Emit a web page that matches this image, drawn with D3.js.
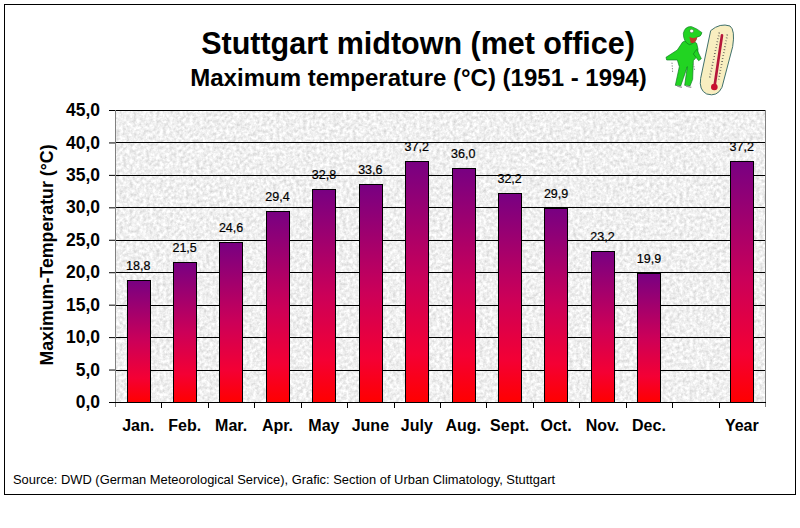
<!DOCTYPE html>
<html>
<head>
<meta charset="utf-8">
<script src="https://cdn.jsdelivr.net/npm/d3@7"></script>
<style>
  html, body { margin: 0; padding: 0; background: #fff; }
  svg { display: block; }
  text { font-family: "Liberation Sans", Arial, sans-serif; fill: #000; }
</style>
</head>
<body>
<div id="chart"></div>
<script>
// ── Data ─────────────────────────────────────────────
const categories = ['Jan.', 'Feb.', 'Mar.', 'Apr.', 'May', 'June', 'July', 'Aug.', 'Sept.', 'Oct.', 'Nov.', 'Dec.', '', 'Year'];
const values = [18.8, 21.5, 24.6, 29.4, 32.8, 33.6, 37.2, 36.0, 32.2, 29.9, 23.2, 19.9, null, 37.2];
const yTicks = [0, 5, 10, 15, 20, 25, 30, 35, 40, 45];

const width = 800, height = 528;
const plot = { left: 115, right: 765, top: 110, bottom: 402 };

const svg = d3.select('#chart').append('svg')
  .attr('width', width).attr('height', height)
  .attr('viewBox', `0 0 ${width} ${height}`);

const comma = d3.formatLocale({ decimal: ',', thousands: '.', grouping: [3], currency: ['', ''] }).format('.1f');

// ── Defs ─────────────────────────────────────────────
const defs = svg.append('defs');
const grad = defs.append('linearGradient').attr('id', 'bar-fill')
  .attr('x1', 0).attr('y1', 0).attr('x2', 0).attr('y2', 1);
grad.append('stop').attr('offset', '0%').attr('stop-color', '#780082');
grad.append('stop').attr('offset', '50%').attr('stop-color', '#cc0058');
grad.append('stop').attr('offset', '80%').attr('stop-color', '#f40034');
grad.append('stop').attr('offset', '100%').attr('stop-color', '#ff0000');

// grey granite texture for the plot area
const granite = defs.append('filter').attr('id', 'granite')
  .attr('x', 0).attr('y', 0).attr('width', '100%').attr('height', '100%')
  .attr('color-interpolation-filters', 'sRGB');
granite.append('feTurbulence').attr('type', 'fractalNoise')
  .attr('baseFrequency', 0.3).attr('numOctaves', 3).attr('seed', 4);
granite.append('feColorMatrix').attr('type', 'matrix')
  .attr('values', '0.28 0 0 0 0.8  0.28 0 0 0 0.8  0.28 0 0 0 0.8  0 0 0 0 1');
granite.append('feGaussianBlur').attr('stdDeviation', 0.5);

// ── Frame ────────────────────────────────────────────
svg.append('rect').attr('width', width).attr('height', height).attr('fill', '#fff');
svg.append('rect')
  .attr('x', 4.5).attr('y', 4.5).attr('width', 791).attr('height', 490)
  .attr('fill', '#fff').attr('stroke', '#000').attr('stroke-width', 1);

// ── Scales ───────────────────────────────────────────
const x = d3.scaleBand().domain(categories.map((c, i) => i))
  .range([plot.left, plot.right]).paddingInner(0.5).paddingOuter(0.25);
const y = d3.scaleLinear().domain([0, 45]).range([plot.bottom, plot.top]);
const py = v => Math.round(y(v)) + 0.5;

// ── Plot background ──────────────────────────────────
svg.append('rect')
  .attr('x', plot.left).attr('y', plot.top)
  .attr('width', plot.right - plot.left).attr('height', plot.bottom - plot.top)
  .attr('fill', '#ececec').attr('filter', 'url(#granite)');

// ── Gridlines ────────────────────────────────────────
svg.append('g').selectAll('line').data(yTicks.filter(d => d > 0)).join('line')
  .attr('x1', plot.left).attr('x2', plot.right)
  .attr('y1', py).attr('y2', py)
  .attr('stroke', '#000').attr('stroke-width', 1);

// plot edges left + right are grey
svg.append('g').selectAll('line').data([plot.left, plot.right]).join('line')
  .attr('x1', d => d + 0.5).attr('x2', d => d + 0.5)
  .attr('y1', plot.top).attr('y2', plot.bottom + 5)
  .attr('stroke', '#808080').attr('stroke-width', 1);

// ── Bars ─────────────────────────────────────────────
const rows = values.map((v, i) => ({ i, v })).filter(d => d.v !== null);

svg.append('g').selectAll('rect').data(rows).join('rect')
  .attr('x', d => Math.round(x(d.i)) + 0.5)
  .attr('y', d => py(d.v))
  .attr('width', Math.round(x.bandwidth()))
  .attr('height', d => py(0) - py(d.v))
  .attr('fill', 'url(#bar-fill)')
  .attr('stroke', '#000').attr('stroke-width', 1);

svg.append('g').selectAll('text').data(rows).join('text')
  .attr('x', d => x(d.i) + x.bandwidth() / 2)
  .attr('y', d => y(d.v) - 10)
  .attr('text-anchor', 'middle')
  .attr('font-size', 12.5)
  .attr('stroke', '#000').attr('stroke-width', 0.2)
  .text(d => comma(d.v));

// ── Axes ─────────────────────────────────────────────
const yAxis = d3.axisLeft(y).tickValues(yTicks).tickFormat(comma).tickSize(6).tickSizeOuter(0);
const gy = svg.append('g').attr('transform', `translate(${plot.left},0)`).call(yAxis);
gy.select('.domain').remove();
gy.selectAll('line').attr('stroke', '#000');
gy.selectAll('text').attr('font-size', 17.5).attr('font-weight', 'bold')
  .attr('font-family', '"Liberation Sans", Arial, sans-serif').attr('x', -15);

// x axis: ticks sit on the band boundaries, labels in the middle of the bands
const step = x.step();
const xAxis = d3.axisBottom(x).tickFormat(i => categories[i]).tickSize(0).tickPadding(18);
const gx = svg.append('g').attr('transform', `translate(0,${plot.bottom})`).call(xAxis);
gx.select('.domain').remove();
gx.selectAll('text').attr('font-size', 16).attr('font-weight', 'bold')
  .attr('font-family', '"Liberation Sans", Arial, sans-serif');

svg.append('line')
  .attr('x1', plot.left).attr('x2', plot.right + 1)
  .attr('y1', plot.bottom + 0.5).attr('y2', plot.bottom + 0.5)
  .attr('stroke', '#000');

svg.append('g').selectAll('line').data(categories.map((c, i) => i).slice(1)).join('line')
  .attr('x1', i => Math.round(x(i) - (step - x.bandwidth()) / 2) + 0.5)
  .attr('x2', i => Math.round(x(i) - (step - x.bandwidth()) / 2) + 0.5)
  .attr('y1', plot.bottom).attr('y2', plot.bottom + 6)
  .attr('stroke', '#000');

svg.append('text')
  .attr('transform', 'translate(53,255) rotate(-90)')
  .attr('text-anchor', 'middle')
  .attr('font-size', 17.8).attr('font-weight', 'bold')
  .text('Maximum-Temperatur (°C)');

// ── Titles ───────────────────────────────────────────
svg.append('text')
  .attr('x', 418).attr('y', 54).attr('text-anchor', 'middle')
  .attr('font-size', 30.5).attr('font-weight', 'bold')
  .text('Stuttgart midtown (met office)');
svg.append('text')
  .attr('x', 418.5).attr('y', 86).attr('text-anchor', 'middle')
  .attr('font-size', 24).attr('font-weight', 'bold')
  .text('Maximum temperature (°C) (1951 - 1994)');

svg.append('text')
  .attr('x', 13).attr('y', 484)
  .attr('font-size', 12.9).attr('fill', '#111')
  .text('Source: DWD (German Meteorological Service), Grafic: Section of Urban Climatology, Stuttgart');

// ── Frog mascot with thermometer (coordinates in 3x crop units) ──
const mascot = svg.append('g')
  .attr('transform', 'translate(640,10) scale(0.3333)');

// thermometer
mascot.append('path')
  .attr('d', 'M212,62 Q240,38 270,48 Q286,60 278,110 L246,232 Q232,262 200,252 Q176,240 182,205 Z')
  .attr('fill', '#f8eec0').attr('stroke', '#3f6f6a').attr('stroke-width', 3);
mascot.append('path')
  .attr('d', 'M246,76 L224,226').attr('stroke', '#b5173a').attr('stroke-width', 8)
  .attr('stroke-linecap', 'round').attr('fill', 'none');
mascot.append('circle').attr('cx', 223).attr('cy', 231).attr('r', 10).attr('fill', '#c8102e');
mascot.append('path')
  .attr('d', 'M238,68 L208,208 M262,74 L236,208')
  .attr('stroke', '#444').attr('stroke-width', 5).attr('stroke-dasharray', '2 7').attr('fill', 'none');

// frog body, legs, arms, head
const frogGreen = '#22d422';
mascot.append('path')
  .attr('d', 'M128,96 Q150,84 170,100 Q182,135 160,152 L158,208 L150,228 L134,226 L142,170 L130,205 L122,228 L106,226 L118,170 L112,150 L80,150 L78,142 L112,120 Z')
  .attr('fill', frogGreen).attr('stroke', '#0c7a20').attr('stroke-width', 2);
mascot.append('path')
  .attr('d', 'M170,118 L184,146 L176,152 L160,132 Z')
  .attr('fill', frogGreen).attr('stroke', '#0c7a20').attr('stroke-width', 2);
mascot.append('path')
  .attr('d', 'M130,70 Q135,48 155,50 Q172,56 186,68 Q184,80 170,82 Q168,100 148,104 Q130,96 130,70 Z')
  .attr('fill', frogGreen).attr('stroke', '#0c7a20').attr('stroke-width', 2);
mascot.append('path')
  .attr('d', 'M148,80 Q160,88 172,80 Q166,104 152,98 Z')
  .attr('fill', '#c0392b');
mascot.append('ellipse').attr('cx', 155).attr('cy', 63).attr('rx', 6).attr('ry', 5).attr('fill', '#fff').attr('stroke', '#222');
mascot.append('path').attr('d', 'M112,228 L126,232 M138,228 L154,232').attr('stroke', '#999').attr('stroke-width', 4);
mascot.append('path').attr('d', 'M96,158 L98,188 M160,160 L164,182')
  .attr('stroke', '#888').attr('stroke-width', 3).attr('stroke-dasharray', '4 4');
</script>
</body>
</html>
